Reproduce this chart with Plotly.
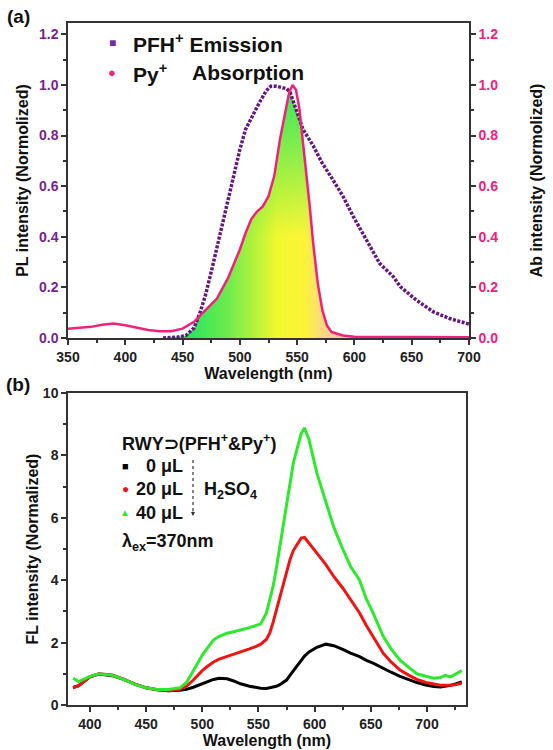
import numpy as np
import plotly.graph_objects as go

# ---------------- Panel (a) data ----------------
em_wl = [433, 445, 453, 460, 465, 470, 476, 482, 488, 494, 500, 505, 511, 517, 523, 527,
         532, 537, 541, 544, 549, 555, 564, 572, 581, 590, 599, 610, 622, 634, 640, 654,
         669, 683, 698, 700]
em_val = [0.0, 0.003, 0.01, 0.04, 0.097, 0.17, 0.28, 0.40, 0.52, 0.64, 0.745, 0.825, 0.88,
          0.93, 0.977, 0.995, 0.995, 0.99, 0.985, 0.97, 0.905, 0.825, 0.76, 0.69, 0.627,
          0.56, 0.48, 0.388, 0.295, 0.242, 0.203, 0.15, 0.103, 0.077, 0.057, 0.055]

abs_wl = [350, 360, 370, 380, 390, 400, 410, 420, 430, 440, 450, 460, 470, 480, 490, 500,
          505, 510, 515, 520, 525, 530, 535, 540, 543, 546, 549, 552, 555, 558, 561, 564,
          568, 572, 576, 580, 590, 600, 650, 700]
abs_val = [0.037, 0.04, 0.044, 0.052, 0.057, 0.05, 0.04, 0.032, 0.027, 0.027, 0.037, 0.064,
           0.11, 0.156, 0.24, 0.35, 0.415, 0.47, 0.5, 0.52, 0.56, 0.64, 0.785, 0.905, 0.97,
           1.0, 0.98, 0.905, 0.785, 0.65, 0.52, 0.375, 0.216, 0.11, 0.05, 0.024, 0.01, 0.005,
           0.003, 0.003]

# ---------------- Panel (b) data ----------------
wl_b = [385, 390, 400, 408, 420, 430, 440, 450, 460, 470, 480, 486, 492, 500, 505, 510, 515,
        522, 528, 534, 542, 548, 552, 557, 560, 563, 566, 569, 572, 575, 578, 581, 585, 588,
        591, 595, 602, 610, 617, 625, 632, 640, 646, 652, 661, 668, 676, 684, 691, 699, 706,
        712, 716, 721, 726, 731]
fl_0 = [0.56, 0.62, 0.9, 0.99, 0.94, 0.82, 0.67, 0.55, 0.49, 0.46, 0.47, 0.5, 0.57, 0.68,
        0.76, 0.82, 0.86, 0.84, 0.77, 0.68, 0.6, 0.56, 0.54, 0.53, 0.55, 0.57, 0.6, 0.65,
        0.72, 0.8, 0.95, 1.1, 1.3, 1.45, 1.57, 1.7, 1.85, 1.95, 1.9, 1.78, 1.66, 1.55, 1.43,
        1.34, 1.17, 1.05, 0.92, 0.8, 0.72, 0.64, 0.59, 0.58, 0.6, 0.63, 0.68, 0.74]
fl_20 = [0.55, 0.62, 0.9, 1.0, 0.96, 0.83, 0.67, 0.55, 0.49, 0.46, 0.5, 0.6, 0.8, 1.1, 1.25,
         1.38, 1.47, 1.55, 1.63, 1.7, 1.8, 1.88, 1.95, 2.1, 2.3, 2.65, 3.05, 3.5, 3.9, 4.3,
         4.65, 4.95, 5.2, 5.35, 5.37, 5.2, 4.87, 4.5, 4.12, 3.75, 3.37, 2.95, 2.55, 2.2, 1.66,
         1.38, 1.12, 0.95, 0.82, 0.72, 0.66, 0.63, 0.63, 0.63, 0.66, 0.7]
fl_40 = [0.86, 0.75, 0.92, 1.0, 0.95, 0.82, 0.66, 0.55, 0.5, 0.5, 0.55, 0.72, 1.1, 1.6, 1.85,
         2.08, 2.2, 2.3, 2.35, 2.4, 2.48, 2.55, 2.6, 2.94, 3.35, 3.8, 4.4, 5.08, 5.7, 6.36,
         7.05, 7.75, 8.3, 8.7, 8.88, 8.5, 7.43, 6.5, 5.7, 5.0, 4.44, 4.0, 3.4, 2.95, 2.2, 1.8,
         1.44, 1.2, 1.0, 0.92, 0.86, 0.88, 0.95, 0.9, 1.0, 1.1]

legend_a = ["PFH<sup>+</sup> Emission", "Py<sup>+</sup>", "Absorption"]
legend_b_title = "RWY\u2283(PFH<sup>+</sup>&Py<sup>+</sup>)"
legend_b = ["0 \u03bcL", "20 \u03bcL", "40 \u03bcL"]

PURPLE = "#64187f"
PURPLE_LBL = "#7a1f8f"
PINK = "#f0217a"
PINK_LBL = "#f0207f"
GREEN = "#2ee82e"
RED = "#ee1414"
FONT = "Liberation Sans, Arial, sans-serif"
W, H = 553, 750


def px(x):
    return x / W


def py(y):
    return 1 - y / H


fig = go.Figure()

# overlap shading (min of the two spectra)
grid = np.arange(433, 701, 1.0)
ov = np.minimum(np.interp(grid, em_wl, em_val), np.interp(grid, abs_wl, abs_val))
fig.add_trace(go.Scatter(
    x=grid, y=ov, mode="lines", line=dict(width=0), fill="tozeroy",
    fillgradient=dict(type="horizontal", start=455, stop=595,
                      colorscale=[[0, "rgb(40,228,95)"], [0.25, "rgb(110,235,75)"],
                                  [0.55, "rgb(240,248,45)"], [0.72, "rgb(252,245,55)"],
                                  [0.84, "rgb(250,215,130)"], [1, "rgb(245,195,175)"]]),
    showlegend=False, hoverinfo="skip", xaxis="x", yaxis="y"))
fig.add_trace(go.Scatter(
    x=grid, y=ov, mode="lines", line=dict(width=0), fill="tozeroy",
    fillgradient=dict(type="vertical", start=0, stop=1.0,
                      colorscale=[[0, "rgba(40,230,95,0)"], [0.4, "rgba(40,230,95,0)"],
                                  [1, "rgba(40,230,95,0.95)"]]),
    showlegend=False, hoverinfo="skip", xaxis="x", yaxis="y"))

# absorption and emission
fig.add_trace(go.Scatter(x=abs_wl, y=abs_val, mode="lines", line=dict(color=PINK, width=2.5),
                         showlegend=False, xaxis="x", yaxis="y2"))
fig.add_trace(go.Scatter(x=em_wl, y=em_val, mode="lines",
                         line=dict(color=PURPLE, width=3.5, dash="3px,1.5px"),
                         showlegend=False, xaxis="x", yaxis="y"))

# panel (b)
for ys, col in [(fl_0, "black"), (fl_20, RED), (fl_40, GREEN)]:
    fig.add_trace(go.Scatter(x=wl_b, y=ys, mode="lines", line=dict(color=col, width=3),
                             showlegend=False, xaxis="x3", yaxis="y3"))

axis_common = dict(showline=True, linecolor="#333", linewidth=1.5, ticks="outside",
                   ticklen=5, tickwidth=1.5, tickcolor="#333", showgrid=False, zeroline=False,
                   automargin=False,
                   tickfont=dict(size=14, family=FONT, color="#222", weight="bold"))
minor_x = dict(dtick=25, ticks="outside", ticklen=3, tickwidth=1.5, tickcolor="#333", showgrid=False)
title_font = dict(size=16, family=FONT, color="#111", weight="bold")


def tf(size, color="#111"):
    return dict(size=size, family=FONT, color=color, weight="bold")


def ann(text, x, y, size, color="#111", xanchor="left"):
    return dict(text=text, x=px(x), y=py(y), xref="paper", yref="paper", showarrow=False,
                xanchor=xanchor, yanchor="middle", font=tf(size, color))


annotations = [
    ann("(a)", 18, 17, 19, xanchor="center"),
    ann("(b)", 18, 384, 19, xanchor="center"),
    # legend (a)
    ann("\u25a0", 112, 43, 12, "#7030a0", xanchor="center"),
    ann(legend_a[0], 131, 43, 21),
    ann("\u25cf", 112, 73, 13, PINK, xanchor="center"),
    ann(legend_a[1], 131, 73, 21),
    ann(legend_a[2], 190, 73, 21),
    # legend (b)
    ann(legend_b_title, 120, 442, 18),
    ann("\u25a0", 125, 466, 11, "black", xanchor="center"),
    ann("\u25cf", 125, 489, 12, RED, xanchor="center"),
    ann("\u25b2", 125, 512, 10, GREEN, xanchor="center"),
    ann(legend_b[0], 185, 466, 18, xanchor="right"),
    ann(legend_b[1], 185, 489, 18, xanchor="right"),
    ann(legend_b[2], 185, 513, 18, xanchor="right"),
    ann("H<sub>2</sub>SO<sub>4</sub>", 202, 490, 18),
    ann("\u03bb<sub>ex</sub>=370nm", 120, 542, 18),
    dict(text="", x=px(193), y=py(516), ax=0, ay=-6, xref="paper", yref="paper",
         showarrow=True, arrowhead=2, arrowsize=0.8, arrowwidth=1, arrowcolor="#333"),
]

fig.update_layout(
    width=W, height=H, margin=dict(l=0, r=0, t=0, b=0, autoexpand=False),
    paper_bgcolor="white", plot_bgcolor="white", showlegend=False,
    font=dict(family=FONT, color="#111", weight="bold"),
    xaxis=dict(**axis_common, domain=[px(68), px(469)], range=[350, 700], dtick=50, anchor="y",
               mirror=True, minor=minor_x,
               title=dict(text="Wavelength (nm)", standoff=0, font=title_font)),
    yaxis=dict(**{**axis_common, "tickfont": tf(14, PURPLE_LBL)},
               domain=[py(338), py(23)], range=[0, 1.245], dtick=0.2, tickformat=".1f", anchor="x",
               minor=dict(dtick=0.1, ticks="outside", ticklen=3, tickwidth=1.5, tickcolor="#333"),
               title=dict(text="PL intensity (Normolized)", standoff=6, font=title_font)),
    yaxis2=dict(**{**axis_common, "tickfont": tf(14, PINK_LBL)},
                overlaying="y", side="right", range=[0, 1.245], dtick=0.2, tickformat=".1f", anchor="x",
                minor=dict(dtick=0.1, ticks="outside", ticklen=3, tickwidth=1.5, tickcolor="#333"),
                title=dict(text="Ab intensity (Normolized)", standoff=34, font=title_font)),
    xaxis3=dict(**axis_common, domain=[px(68), px(466)], range=[380.5, 734.7], dtick=50, anchor="y3",
                mirror=True, minor=minor_x,
                title=dict(text="Wavelength (nm)", standoff=2, font=title_font)),
    yaxis3=dict(**axis_common, domain=[py(705), py(393)], range=[0, 10], dtick=2, anchor="x3", mirror=True,
                minor=dict(dtick=1, ticks="outside", ticklen=3, tickwidth=1.5, tickcolor="#333"),
                title=dict(text="FL intensity (Normalized)", standoff=0, font=title_font)),
    annotations=annotations,
    shapes=[dict(type="line", xref="paper", yref="paper", x0=px(193), x1=px(193),
                 y0=py(460), y1=py(512), line=dict(color="#333", width=1.2, dash="dot"))],
)

fig.write_html("out.html")
